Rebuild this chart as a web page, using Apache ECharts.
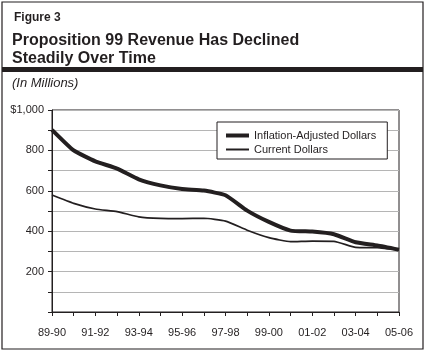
<!DOCTYPE html>
<html>
<head>
<meta charset="utf-8">
<script src="https://cdn.jsdelivr.net/npm/echarts@6/dist/echarts.min.js"></script>
<style>
  html, body { margin: 0; padding: 0; background: #fff; }
  #chart { width: 427px; height: 354px; }
</style>
</head>
<body>
<div id="chart"></div>
<script>
// fiscal years
const years = ['89-90', '90-91', '91-92', '92-93', '93-94', '94-95', '95-96', '96-97', '97-98',
  '98-99', '99-00', '00-01', '01-02', '02-03', '03-04', '04-05', '05-06'];
// revenue in millions
const inflationAdjusted = [902, 800, 746, 710, 657, 627, 609, 601, 578, 502, 446, 403, 398, 385, 345, 329, 308];
const currentDollars = [579, 538, 510, 497, 471, 463, 462, 464, 450, 405, 368, 348, 351, 350, 320, 318, 307];
const yLabels = { 200: '200', 400: '400', 600: '600', 800: '800', 1000: '$1,000' };

const font = '"Liberation Sans", Arial, sans-serif';
const ink = '#231f20';

const chart = echarts.init(document.getElementById('chart'));
chart.setOption({
  animation: false,
  backgroundColor: '#fff',
  textStyle: { fontFamily: font, color: ink },
  title: [
    { text: 'Figure 3', left: 9, top: 7,
      textStyle: { fontSize: 12, fontWeight: 'bold', color: ink, fontFamily: font } },
    { text: 'Proposition 99 Revenue Has Declined\nSteadily Over Time', left: 7, top: 27,
      textStyle: { fontSize: 16, fontWeight: 'bold', color: ink, fontFamily: font, lineHeight: 18 } },
    { text: '(In Millions)', left: 7, top: 72,
      textStyle: { fontSize: 13, fontStyle: 'italic', fontWeight: 'normal', color: ink, fontFamily: font } }
  ],
  graphic: [
    { type: 'rect', shape: { x: 2, y: 2, width: 421, height: 347 },
      style: { fill: 'none', stroke: ink, lineWidth: 1.2 } },
    { type: 'rect', shape: { x: 2, y: 67, width: 421, height: 5 },
      style: { fill: ink } }
  ],
  legend: {
    left: 217, top: 122,
    orient: 'vertical',
    backgroundColor: '#fff',
    borderColor: ink, borderWidth: 1,
    padding: [8, 11, 4, 9],
    itemGap: 3,
    itemWidth: 23, itemHeight: 14,
    textStyle: { fontSize: 11, color: ink, fontFamily: font },
    data: [
      { name: 'Inflation-Adjusted Dollars', icon: 'path://M0,0H23V4H0Z' },
      { name: 'Current Dollars', icon: 'path://M0,0H23V2H0Z' }
    ]
  },
  grid: { left: 52, right: 28, top: 110, bottom: 42, show: true, borderColor: ink, borderWidth: 1 },
  xAxis: {
    type: 'category',
    data: years,
    boundaryGap: false,
    axisLine: { lineStyle: { color: ink, width: 1 } },
    axisTick: { interval: 0, length: 4, lineStyle: { color: ink } },
    axisLabel: { interval: 1, margin: 15, fontSize: 11, color: ink, fontFamily: font }
  },
  yAxis: {
    type: 'value',
    min: 0, max: 1000, interval: 100,
    axisLine: { show: true, lineStyle: { color: ink, width: 1 } },
    axisTick: { show: true, length: 4, lineStyle: { color: ink } },
    axisLabel: { margin: 8, fontSize: 11, color: ink, fontFamily: font,
      formatter: v => yLabels[v] || '' },
    splitLine: { lineStyle: { color: '#b5b5b5', width: 1 } }
  },
  series: [
    { name: 'Inflation-Adjusted Dollars', type: 'line', data: inflationAdjusted,
      symbol: 'none', smooth: 0.15, z: 3,
      lineStyle: { color: ink, width: 4 }, itemStyle: { color: ink } },
    { name: 'Current Dollars', type: 'line', data: currentDollars,
      symbol: 'none', smooth: 0.15, z: 2,
      lineStyle: { color: ink, width: 1.7 }, itemStyle: { color: ink } }
  ]
});
</script>
</body>
</html>
